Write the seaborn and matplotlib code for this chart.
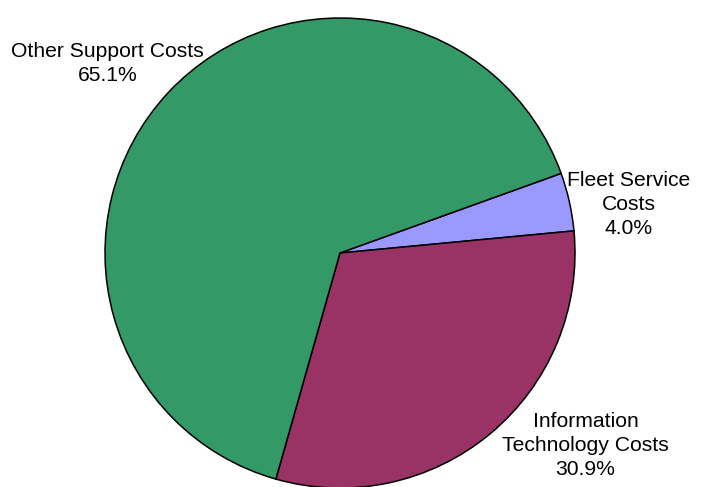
import matplotlib
matplotlib.use("Agg")
import matplotlib.pyplot as plt
import seaborn as sns

categories = ["Fleet Service\nCosts", "Information\nTechnology Costs", "Other Support Costs"]
shares = [4.0, 30.9, 65.1]
colors = ["#9999FF", "#993366", "#339966"]
# label anchor points, in units of the pie radius
label_xy = [(1.23, 0.205), (1.045, -0.82), (-0.99, 0.805)]

sns.set_style("white")
plt.rcParams["font.family"] = ["Liberation Sans", "DejaVu Sans"]

W, H = 705, 487
fig = plt.figure(figsize=(W / 100, H / 100), dpi=100)
cx, cy, r = 340, 253, 235
ax = fig.add_axes([(cx - r) / W, (H - cy - r) / H, 2 * r / W, 2 * r / H])

ax.pie(shares, colors=colors, startangle=19.8, counterclock=False,
       radius=1.0, wedgeprops=dict(edgecolor="black", linewidth=1.1))
ax.set_xlim(-1, 1)
ax.set_ylim(-1, 1)
ax.set_aspect("equal")
ax.axis("off")

for name, val, (x, y) in zip(categories, shares, label_xy):
    ax.text(x, y, f"{name}\n{val:.1f}%", ha="center", va="center",
            fontsize=15.2, color="black", linespacing=1.33, clip_on=False)

fig.savefig("out.png", dpi=100)
